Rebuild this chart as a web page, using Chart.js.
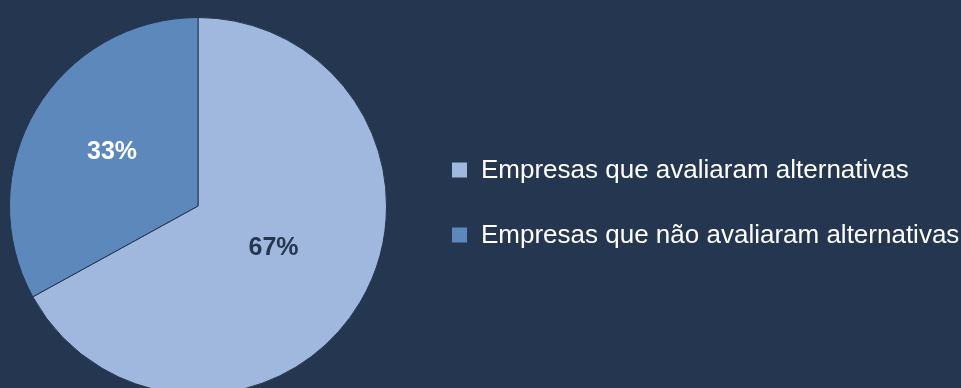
<!DOCTYPE html>
<html>
<head>
<meta charset="utf-8">
<title>Avaliação de alternativas</title>
<script src="https://cdn.jsdelivr.net/npm/chart.js@4/dist/chart.umd.min.js"></script>
<style>
    html, body {
        margin: 0;
        padding: 0;
        width: 961px;
        height: 388px;
        overflow: hidden;
        background: #243650;
    }
    canvas {
        display: block;
    }
</style>
</head>
<body>
<canvas id="pieChart" width="961" height="400"></canvas>
<script>
// Data
const categories = ['Empresas que avaliaram alternativas', 'Empresas que não avaliaram alternativas'];
const shares = [67, 33];
const sliceColors = ['#a0b8de', '#5c88bb'];
const labelColors = ['#243650', '#ffffff'];

const BG = '#243650';
const FONT = '"Liberation Sans", Arial, sans-serif';

// Percent labels inside each slice, placed along the middle angle
const sliceLabels = {
    id: 'sliceLabels',
    afterDatasetsDraw(chart, args, opts) {
        const ctx = chart.ctx;
        const meta = chart.getDatasetMeta(0);
        ctx.save();
        ctx.font = 'bold 25px ' + FONT;
        ctx.textAlign = 'center';
        ctx.textBaseline = 'middle';
        meta.data.forEach(function(arc, i) {
            const p = arc.getProps(['x', 'y', 'startAngle', 'endAngle', 'outerRadius']);
            const mid = (p.startAngle + p.endAngle) / 2;
            const r = p.outerRadius * opts.radius[i];
            ctx.fillStyle = labelColors[i];
            ctx.fillText(shares[i] + '%', p.x + Math.cos(mid) * r + 2.5, p.y + Math.sin(mid) * r - 1.5);
        });
        ctx.restore();
    }
};

// Legend on the right side, square markers
const sideLegend = {
    id: 'sideLegend',
    afterDraw(chart, args, opts) {
        const ctx = chart.ctx;
        ctx.save();
        ctx.font = opts.fontSize + 'px ' + FONT;
        ctx.textBaseline = 'middle';
        ctx.textAlign = 'left';
        categories.forEach(function(label, i) {
            const top = opts.top + i * opts.gap;
            ctx.fillStyle = sliceColors[i];
            ctx.fillRect(opts.left, top, opts.box, opts.box);
            ctx.fillStyle = '#ffffff';
            ctx.fillText(label, opts.textLeft, top + opts.box / 2 + 0.5);
        });
        ctx.restore();
    }
};

new Chart(document.getElementById('pieChart'), {
    type: 'pie',
    data: {
        labels: categories,
        datasets: [{
            data: shares,
            backgroundColor: sliceColors,
            borderColor: BG,
            borderWidth: 1
        }]
    },
    options: {
        responsive: false,
        animation: false,
        events: [],
        layout: {
            padding: { left: 9, top: 17, right: 574, bottom: 5 }
        },
        plugins: {
            legend: { display: false },
            tooltip: { enabled: false },
            sliceLabels: { radius: [0.45, 0.545] },
            sideLegend: { left: 452, top: 162.5, gap: 65, box: 15, textLeft: 481, fontSize: 26 }
        }
    },
    plugins: [sliceLabels, sideLegend]
});
</script>
</body>
</html>
